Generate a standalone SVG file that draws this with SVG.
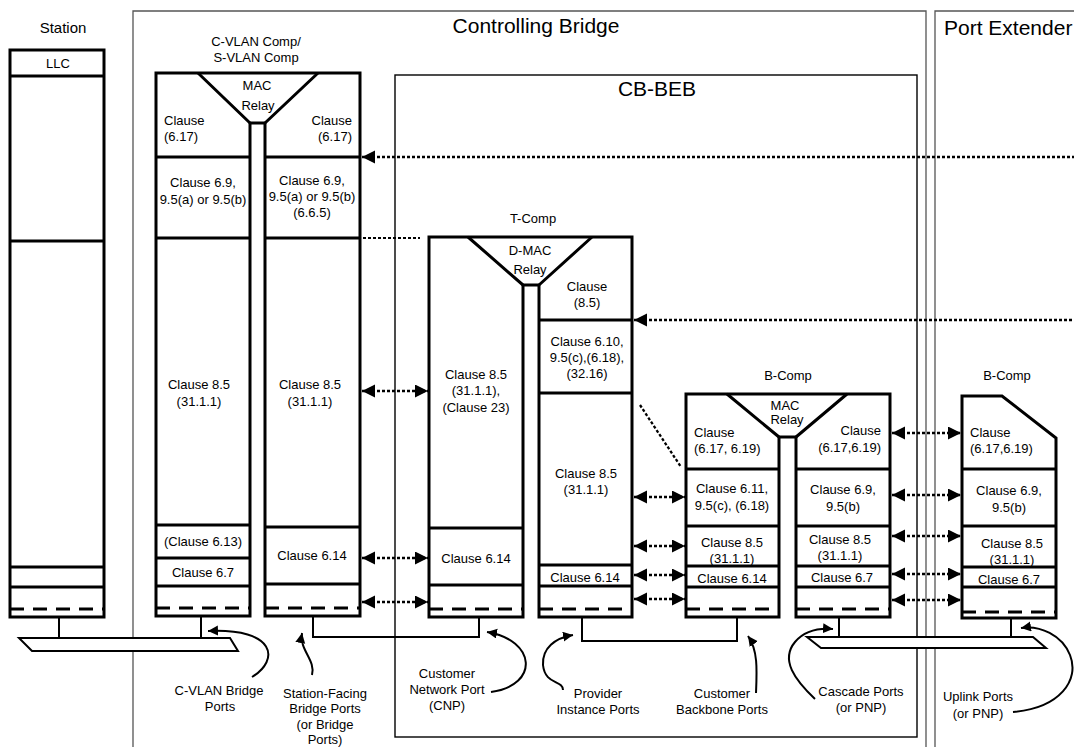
<svg xmlns="http://www.w3.org/2000/svg" width="1074" height="747" viewBox="0 0 1074 747">
<style>
text{font-family:"Liberation Sans",Arial,sans-serif;font-size:13px;fill:#000}
.m{text-anchor:middle}
.e{text-anchor:end}
.t21{font-size:21px}
.t15{font-size:15px}
.b{stroke:#000;stroke-width:3;fill:none}
.bf{stroke:#000;stroke-width:3;fill:#fff}
.dl{stroke:#000;stroke-width:3;fill:none;stroke-dasharray:14 9}
.fr{stroke:#555;stroke-width:1.3;fill:none}
.fk{stroke:#000;stroke-width:1.4;fill:none}
.dt{stroke:#000;stroke-width:2.3;fill:none;stroke-dasharray:3 2}
.dtb{stroke:#000;stroke-width:2.3;fill:none;stroke-dasharray:3 2;marker-start:url(#ah);marker-end:url(#ah)}
.dts{stroke:#000;stroke-width:2.3;fill:none;stroke-dasharray:3 2;marker-start:url(#ah)}
.cv{stroke:#000;stroke-width:2;fill:none;marker-end:url(#ah2)}
.bus{stroke:#000;stroke-width:2;fill:#fff}
</style>
<defs>
<marker id="ah" markerUnits="userSpaceOnUse" markerWidth="14" markerHeight="14" refX="13" refY="6.5" orient="auto-start-reverse"><path d="M0,0 L13,6.5 L0,13 Z" fill="#000"/></marker>
<marker id="ah2" markerUnits="userSpaceOnUse" markerWidth="12" markerHeight="12" refX="10" refY="5" orient="auto"><path d="M0,0 L10,5 L0,10 Z" fill="#000"/></marker>
</defs>
<rect width="1074" height="747" fill="#fff"/>

<g id="frames">
<path class="fr" d="M133,747 V11 H926 V747"/>
<path class="fr" d="M935,747 V11 H1074"/>
<rect class="fk" x="395" y="75" width="522" height="662"/>
<text class="m t15" x="63" y="33">Station</text>
<text class="m t21" x="536" y="33">Controlling Bridge</text>
<text class="t21" x="944" y="35">Port Extender</text>
<text class="m t21" x="657" y="96">CB-BEB</text>
</g>

<g id="station">
<rect class="bf" x="10" y="50" width="94" height="567"/>
<path class="b" d="M10,76 H104 M10,241 H104 M10,567 H104 M10,587 H104"/>
<path class="dl" d="M10,609 H104"/>
<text class="m" x="58" y="68">LLC</text>
</g>

<g id="cvlan-comp">
<path class="bf" d="M156,73 H360 V616 H265 V123 H250 V616 H156 Z"/>
<path class="b" d="M198,73 L250,123 M318,73 L265,123"/>
<path class="b" d="M156,157 H250 M156,238 H250 M156,525 H250 M156,558 H250 M156,586 H250"/>
<path class="b" d="M265,157 H360 M265,238 H360 M265,527 H360 M265,584 H360"/>
<path class="dl" d="M156,608 H250 M265,608 H360"/>
<text class="m" x="256" y="46">C-VLAN Comp/</text>
<text class="m" x="256" y="62">S-VLAN Comp</text>
<text class="m" x="257" y="90">MAC</text>
<text class="m" x="258" y="110">Relay</text>
<text x="164" y="125">Clause</text>
<text x="164" y="141">(6.17)</text>
<text class="e" x="352" y="125">Clause</text>
<text class="e" x="352" y="141">(6.17)</text>
<text class="m" x="203" y="187">Clause 6.9,</text>
<text class="m" x="203" y="204">9.5(a) or 9.5(b)</text>
<text class="m" x="312" y="185">Clause 6.9,</text>
<text class="m" x="312" y="201">9.5(a) or 9.5(b)</text>
<text class="m" x="312" y="217">(6.6.5)</text>
<text class="m" x="199" y="389">Clause 8.5</text>
<text class="m" x="199" y="406">(31.1.1)</text>
<text class="m" x="310" y="389">Clause 8.5</text>
<text class="m" x="310" y="406">(31.1.1)</text>
<text class="m" x="203" y="546">(Clause 6.13)</text>
<text class="m" x="203" y="577">Clause 6.7</text>
<text class="m" x="312" y="560">Clause 6.14</text>
</g>

<g id="t-comp">
<path class="bf" d="M429,237 H632 V617 H539 V285 H523 V617 H429 Z"/>
<path class="b" d="M468,237 L523,285 M592,237 L539,285"/>
<path class="b" d="M429,528 H523 M429,585 H523"/>
<path class="b" d="M539,320 H632 M539,393 H632 M539,565 H632 M539,586 H632"/>
<path class="dl" d="M429,609 H523 M539,609 H632"/>
<text class="m" x="533" y="223">T-Comp</text>
<text class="m" x="530" y="255">D-MAC</text>
<text class="m" x="530" y="274">Relay</text>
<text class="m" x="587" y="291">Clause</text>
<text class="m" x="587" y="307">(8.5)</text>
<text class="m" x="587" y="346">Clause 6.10,</text>
<text class="m" x="587" y="362">9.5(c),(6.18),</text>
<text class="m" x="587" y="378">(32.16)</text>
<text class="m" x="476" y="379">Clause 8.5</text>
<text class="m" x="476" y="395">(31.1.1),</text>
<text class="m" x="476" y="412">(Clause 23)</text>
<text class="m" x="586" y="478">Clause 8.5</text>
<text class="m" x="586" y="494">(31.1.1)</text>
<text class="m" x="476" y="563">Clause 6.14</text>
<text class="m" x="585" y="582">Clause 6.14</text>
</g>

<g id="b-comp-cb">
<path class="bf" d="M686,394 H890 V617 H796 V437 H779 V617 H686 Z"/>
<path class="b" d="M727,394 L779,437 M847,394 L796,437"/>
<path class="b" d="M686,469 H779 M686,526 H779 M686,566 H779 M686,587 H779"/>
<path class="b" d="M796,469 H890 M796,526 H890 M796,566 H890 M796,587 H890"/>
<path class="dl" d="M686,609 H779 M796,609 H890"/>
<text class="m" x="788" y="380">B-Comp</text>
<text class="m" x="785" y="410">MAC</text>
<text class="m" x="787" y="424">Relay</text>
<text x="694" y="437">Clause</text>
<text x="694" y="453">(6.17, 6.19)</text>
<text class="e" x="881" y="435">Clause</text>
<text class="e" x="881" y="452">(6.17,6.19)</text>
<text class="m" x="732" y="493">Clause 6.11,</text>
<text class="m" x="732" y="510">9.5(c), (6.18)</text>
<text class="m" x="843" y="494">Clause 6.9,</text>
<text class="m" x="843" y="511">9.5(b)</text>
<text class="m" x="732" y="547">Clause 8.5</text>
<text class="m" x="732" y="563">(31.1.1)</text>
<text class="m" x="840" y="544">Clause 8.5</text>
<text class="m" x="840" y="560">(31.1.1)</text>
<text class="m" x="732" y="583">Clause 6.14</text>
<text class="m" x="842" y="582">Clause 6.7</text>
</g>

<g id="b-comp-pe">
<path class="bf" d="M962,396 H1002 L1056,438 V618 H962 Z"/>
<path class="b" d="M962,469 H1056 M962,526 H1056 M962,567 H1056 M962,587 H1056"/>
<path class="dl" d="M962,612 H1056"/>
<text class="m" x="1007" y="380">B-Comp</text>
<text x="970" y="437">Clause</text>
<text x="970" y="453">(6.17,6.19)</text>
<text class="m" x="1009" y="495">Clause 6.9,</text>
<text class="m" x="1009" y="512">9.5(b)</text>
<text class="m" x="1012" y="548">Clause 8.5</text>
<text class="m" x="1012" y="564">(31.1.1)</text>
<text class="m" x="1009" y="584">Clause 6.7</text>
</g>

<g id="lan-station">
<path class="b" d="M59,617 V638" style="stroke-width:2"/>
<path class="b" d="M201,616 V638" style="stroke-width:2"/>
<polygon class="bus" points="19,638 230,638 238,651 32,651"/>
</g>

<g id="lan-cascade">
<path class="b" d="M839,617 V637 M1011,618 V637" style="stroke-width:2"/>
<polygon class="bus" points="807,637 1033,637 1046,648 821,648"/>
</g>

<g id="connectors">
<path class="b" d="M313,616 V637 H479 V617" style="stroke-width:2"/>
<path class="b" d="M582,617 V641 H737 V617" style="stroke-width:2"/>
<path class="dts" d="M362,157 H1074"/>
<path class="dts" d="M634,320 H1074"/>
<path class="dt" d="M363,238 H420" style="stroke-width:1.8"/>
<path class="dt" d="M640,405 L681,467"/>
<path class="dtb" d="M362,391 H428"/>
<path class="dtb" d="M362,558 H428"/>
<path class="dtb" d="M362,602 H428"/>
<path class="dtb" d="M634,497 H685"/>
<path class="dtb" d="M634,546 H685"/>
<path class="dtb" d="M634,575 H685"/>
<path class="dtb" d="M634,599 H685"/>
<path class="dtb" d="M892,433 H961"/>
<path class="dtb" d="M892,495 H961"/>
<path class="dtb" d="M892,536 H961"/>
<path class="dtb" d="M892,574 H961"/>
<path class="dtb" d="M892,600 H961"/>
<path class="cv" d="M252,677 C280,660 276,628 208,631"/>
<path class="cv" d="M312,675 C316,660 299,650 302,633"/>
<path class="cv" d="M491,692 C540,685 536,640 487,632"/>
<path class="cv" d="M563,690 C563,680 545,685 543,665 C542,648 555,638 573,635"/>
<path class="cv" d="M756,693 C757,670 758,650 748,636"/>
<path class="cv" d="M815,699 C795,680 780,660 795,642 C805,630 820,628 833,629"/>
<path class="cv" d="M1013,712 C1060,708 1080,680 1070,655 C1062,635 1040,625 1021,628"/>
</g>

<g id="labels">
<text class="m" x="219" y="695">C-VLAN Bridge</text>
<text class="m" x="220" y="711">Ports</text>
<text class="m" x="325" y="698">Station-Facing</text>
<text class="m" x="325" y="713">Bridge Ports</text>
<text class="m" x="325" y="729">(or Bridge</text>
<text class="m" x="325" y="744">Ports)</text>
<text class="m" x="447" y="678">Customer</text>
<text class="m" x="447" y="694">Network Port</text>
<text class="m" x="447" y="710">(CNP)</text>
<text class="m" x="598" y="698">Provider</text>
<text class="m" x="598" y="714">Instance Ports</text>
<text class="m" x="722" y="698">Customer</text>
<text class="m" x="722" y="714">Backbone Ports</text>
<text class="m" x="861" y="696">Cascade Ports</text>
<text class="m" x="861" y="712">(or PNP)</text>
<text class="m" x="978" y="701">Uplink Ports</text>
<text class="m" x="978" y="718">(or PNP)</text>
</g>
</svg>
